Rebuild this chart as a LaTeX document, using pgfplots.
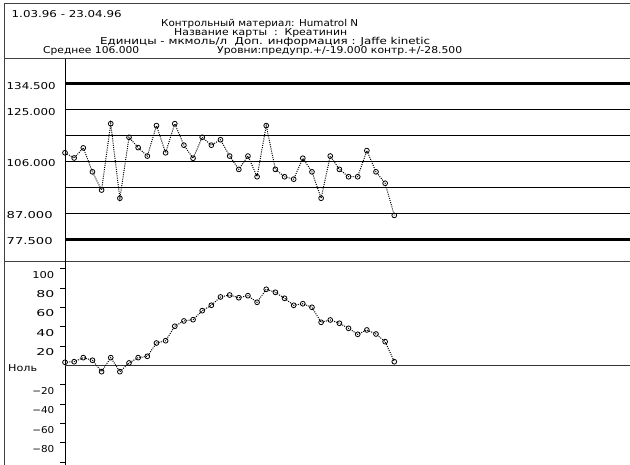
\documentclass[border=0pt]{standalone}
\usepackage{fontspec}
\usepackage{graphicx}
\usepackage{pgfplots}
\usepackage{pgfplotstable}
\pgfplotsset{compat=1.18}
\newfontfamily\pixfont{DejaVu Sans}[FakeStretch=1.12]
\newcommand\qcfont{\pixfont\fontsize{9.5pt}{10pt}\selectfont}
% text set to a given printed width
\newcommand\fitw[2]{\resizebox{#1}{\height}{#2}}

% Creatinine control results (umol/l) and cumulative deviation from the mean
\pgfplotstableread{
n value cusum
0 109.2 3.3
1 107.3 3.9
2 111.0 8.1
3 102.2 5.4
4 95.5 -6.4
5 119.9 8.1
6 92.5 -6.4
7 114.9 2.6
8 111.1 8.1
9 108.0 9.5
10 119.2 23.2
11 109.2 25.6
12 119.9 40.5
13 112.0 46.0
14 107.2 47.3
15 114.9 56.6
16 112.0 62.2
17 114.0 70.8
18 108.0 72.8
19 103.1 70.0
20 108.0 72.1
21 100.4 65.3
22 119.2 78.7
23 103.1 75.6
24 100.4 69.4
25 99.5 62.2
26 107.2 63.8
27 102.2 60.1
28 92.5 44.6
29 108.0 47.0
30 103.1 43.6
31 100.4 38.4
32 100.4 32.2
33 110.0 36.7
34 102.2 32.5
35 98.0 24.6
36 86.2 3.9
}\qcdata

\tikzset{
  qcline/.style={black, line width=1pt, dash pattern=on 1pt off 1.2pt,
    mark=o, mark size=2.4pt, mark options={solid, fill=white, line width=0.8pt}},
  frameline/.style={black!75, line width=1pt},
  levellabel/.style={anchor=west, inner sep=0pt, font=\qcfont, xshift=-58.5pt, yshift=-2pt},
}

\begin{document}
\begin{tikzpicture}[x=1pt,y=1pt]
\useasboundingbox (0,0) rectangle (630,465);
\fill[white] (0,0) rectangle (630,465);

% outer frame, header box and panel separator
\draw[frameline] (4,0) -- (4,461) -- (630,461);
\draw[frameline] (4,406) -- (630,406);
\draw[frameline] (4,203) -- (630,203);
\draw[black, line width=1pt] (65,0) -- (65,406);

% header
\begin{scope}[every node/.style={inner sep=0pt, font=\qcfont}]
\node[anchor=base west] at (11.5,447.5) {\fitw{110pt}{1.03.96 - 23.04.96}};
\node[anchor=base west] at (161,438) {\fitw{197pt}{Контрольный материал: Humatrol N}};
\node[anchor=base west] at (174,429) {\fitw{173pt}{Название карты\ \ :\ \ Креатинин}};
\node[anchor=base west] at (100,420) {\fitw{330pt}{Единицы - мкмоль/л\ \ Доп. информация : Jaffe kinetic}};
\node[anchor=base west] at (43,411.5) {\fitw{96pt}{Среднее 106.000}};
\node[anchor=base west] at (217,411.5) {\fitw{245pt}{Уровни:предупр.+/-19.000 контр.+/-28.500}};
\end{scope}

% control chart: mean, warning and control limits
\begin{axis}[
  at={(65pt,203pt)}, anchor=south west,
  width=565pt, height=203pt, scale only axis,
  xmin=0, xmax=61.77, ymin=69.05, ymax=143.69,
  axis line style={draw=none}, xtick=\empty, ytick=\empty,
  clip=false,
]
\addplot[black, line width=3pt] coordinates {(0,134.5) (61.77,134.5)};
\addplot[black, line width=3pt] coordinates {(0,77.5) (61.77,77.5)};
\addplot[black, line width=0.9pt] coordinates {(0,125) (61.77,125)};
\addplot[black, line width=0.9pt] coordinates {(0,115.5) (61.77,115.5)};
\addplot[black, line width=0.9pt] coordinates {(0,106) (61.77,106)};
\addplot[black, line width=0.9pt] coordinates {(0,96.5) (61.77,96.5)};
\addplot[black, line width=0.9pt] coordinates {(0,87) (61.77,87)};
\addplot[qcline] table[x=n, y=value] {\qcdata};
\node[levellabel] at (axis cs:0,134.5) {\fitw{49pt}{134.500}};
\node[levellabel] at (axis cs:0,125) {\fitw{49pt}{125.000}};
\node[levellabel] at (axis cs:0,106) {\fitw{49pt}{106.000}};
\node[levellabel] at (axis cs:0,87) {\fitw{46pt}{87.000}};
\node[levellabel] at (axis cs:0,77.5) {\fitw{46pt}{77.500}};
\end{axis}

% cumulative sum chart
\begin{axis}[
  at={(65pt,0pt)}, anchor=south west,
  width=565pt, height=203pt, scale only axis,
  xmin=0, xmax=61.77, ymin=-102.8, ymax=106.9,
  axis line style={draw=none}, xtick=\empty,
  ytick={-100,-80,-60,-40,-20,20,40,60,80,100},
  yticklabels={,\fitw{22pt}{−80},\fitw{22pt}{−60},\fitw{22pt}{−40},\fitw{22pt}{−20},
    \fitw{18pt}{20},\fitw{18pt}{40},\fitw{18pt}{60},\fitw{18pt}{80},\fitw{22pt}{100}},
  ytick pos=left, tick align=outside, major tick length=5pt,
  tick style={black, line width=0.9pt},
  yticklabel style={font=\qcfont, anchor=east, inner sep=0pt, xshift=-5.5pt, yshift=-6pt},
  extra y ticks={0}, extra y tick labels={\fitw{29pt}{Ноль}},
  extra y tick style={major tick length=0pt,
    yticklabel style={anchor=west, xshift=-51.5pt, yshift=3.8pt}},
  clip=false,
]
\addplot[black!80, line width=1pt] coordinates {(0,0) (61.77,0)};
\addplot[qcline] table[x=n, y=cusum] {\qcdata};
\end{axis}
\end{tikzpicture}
\end{document}
